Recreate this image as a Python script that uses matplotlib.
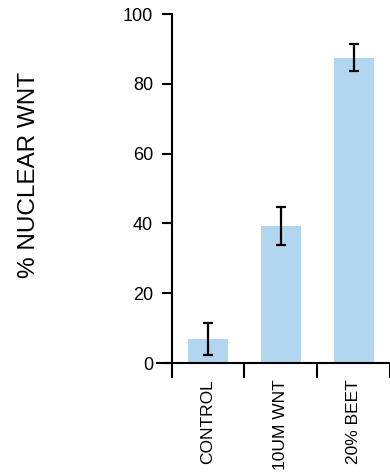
import matplotlib
matplotlib.use("Agg")
import matplotlib.pyplot as plt
from matplotlib.ticker import FixedLocator

# data
categories = ["CONTROL", "10UM WNT", "20% BEET"]
means = [6.9, 39.3, 87.4]
err_low = [4.6, 5.5, 3.7]
err_high = [4.6, 5.5, 4.0]
yticks = [0, 20, 40, 60, 80, 100]

bar_color = "#b3d6f0"
plt.rcParams["font.family"] = ["Liberation Sans", "DejaVu Sans"]

fig = plt.figure(figsize=(3.9, 4.76), dpi=100)
ax = fig.add_axes([157 / 390, 113 / 476, 233 / 390, 349 / 476])

x = list(range(len(categories)))
ax.bar(x, means, width=0.55, color=bar_color, zorder=1)
ax.errorbar(x, means, yerr=[err_low, err_high], fmt="none", ecolor="black",
            elinewidth=1.6, capsize=3.3, capthick=1.6, zorder=2)

ax.set_xlim(-0.7, 2.5)
ax.set_ylim(0, 100)

for s in ["top", "right"]:
    ax.spines[s].set_visible(False)
ax.spines["left"].set_position(("data", -0.5))
ax.spines["left"].set_linewidth(1.5)
ax.spines["bottom"].set_linewidth(1.5)

ax.set_yticks(yticks)
ax.tick_params(axis="y", length=7.2, width=1.5, pad=6, labelsize=13)

# boundary ticks below the axis, labels at the bar centres
ax.xaxis.set_major_locator(FixedLocator([-0.5, 0.5, 1.5, 2.5]))
ax.xaxis.set_minor_locator(FixedLocator(x))
ax.xaxis.set_major_formatter(plt.NullFormatter())
ax.set_xticklabels(categories, minor=True, rotation=90, va="top", ha="center")
ax.tick_params(axis="x", which="major", length=11, width=1.5, direction="out")
ax.tick_params(axis="x", which="minor", length=0, pad=12, labelsize=12.5)

fig.text(29 / 390, 1 - 175 / 476, "% NUCLEAR WNT", rotation=90,
         ha="center", va="center", fontsize=17.5)

fig.savefig("out.png", dpi=100)
